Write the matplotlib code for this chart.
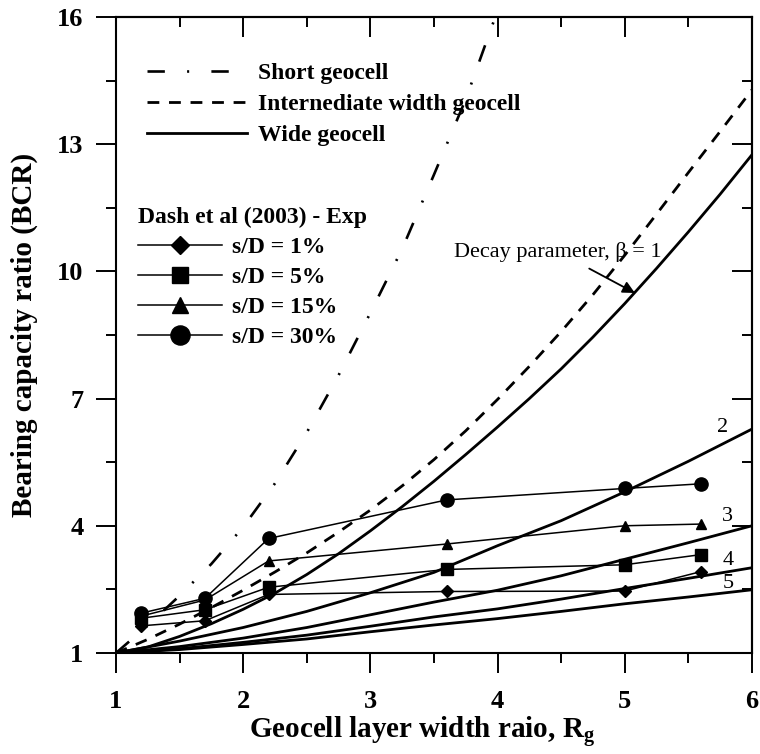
import matplotlib
matplotlib.use('Agg')
import matplotlib.pyplot as plt
from matplotlib.lines import Line2D
from matplotlib.ticker import MultipleLocator

plt.rcParams['font.family'] = 'Liberation Serif'
plt.rcParams['mathtext.fontset'] = 'custom'
plt.rcParams['mathtext.rm'] = 'Liberation Serif'
plt.rcParams['mathtext.bf'] = 'Liberation Serif:bold'
plt.rcParams['lines.scale_dashes'] = False

# wide geocell: BCR against width ratio for each decay parameter
rg_fine = [1, 1.25, 1.5, 1.75, 2, 2.25, 2.5, 2.75, 3, 3.25, 3.5, 3.75, 4,
           4.25, 4.5, 4.75, 5, 5.25, 5.5, 5.75, 6]
wide_b1 = [1, 1.14, 1.39, 1.69, 2.03, 2.41, 2.85, 3.34, 3.88, 4.45, 5.05, 5.68, 6.33,
           7.00, 7.70, 8.45, 9.24, 10.07, 10.93, 11.82, 12.75]
rg = [1, 1.5, 2, 2.5, 3, 3.5, 4, 4.5, 5, 5.5, 6]
wide_b2 = [1, 1.28, 1.60, 1.98, 2.42, 2.90, 3.53, 4.12, 4.80, 5.52, 6.28]
wide_b3 = [1, 1.15, 1.35, 1.60, 1.90, 2.20, 2.48, 2.82, 3.21, 3.60, 4.00]
wide_b4 = [1, 1.10, 1.25, 1.42, 1.63, 1.85, 2.04, 2.27, 2.52, 2.76, 3.01]
wide_b5 = [1, 1.08, 1.20, 1.33, 1.50, 1.66, 1.81, 1.98, 2.16, 2.32, 2.49]

# intermediate width geocell
inter_bcr = [1, 1.32, 1.68, 2.07, 2.48, 2.91, 3.36, 3.85, 4.37, 4.94, 5.56, 6.24, 6.98,
             7.76, 8.58, 9.45, 10.38, 11.35, 12.33, 13.30, 14.28]

# short geocell
short_rg = [1, 1.25, 1.5, 1.75, 2, 2.25, 2.5, 2.75, 3, 3.25, 3.5, 3.75, 4]
short_bcr = [1, 1.65, 2.35, 3.10, 3.97, 5.00, 6.20, 7.55, 9.02, 10.53, 12.28, 14.06, 16.15]

# Dash et al (2003) experiments
exp_rg = [1.2, 1.7, 2.2, 3.6, 5.0, 5.6]
sd_1 = [1.64, 1.76, 2.38, 2.45, 2.46, 2.92]
sd_5 = [1.82, 2.02, 2.55, 2.97, 3.08, 3.32]
sd_15 = [1.87, 2.25, 3.17, 3.57, 4.00, 4.04]
sd_30 = [1.94, 2.29, 3.70, 4.61, 4.88, 4.99]

beta_labels = ['2', '3', '4', '5']
x_ticks = [1, 2, 3, 4, 5, 6]
y_ticks = [1, 4, 7, 10, 13, 16]

fig = plt.figure(figsize=(7.6, 7.54), dpi=100)
ax = fig.add_axes([0.1526, 0.1340, 0.8368, 0.8435])

short_ls = (0, (12.5, 16, 1.5, 16))
inter_ls = (0, (8.5, 7))

ax.plot(short_rg, short_bcr, color='black', lw=1.9, ls=short_ls)
ax.plot(rg_fine, inter_bcr, color='black', lw=2.0, ls=inter_ls)
ax.plot(rg_fine, wide_b1, color='black', lw=2.0)
for b in [wide_b2, wide_b3, wide_b4, wide_b5]:
    ax.plot(rg, b, color='black', lw=2.0)

exp_lines = []
for vals, mk, ms in [(sd_1, 'D', 6.5), (sd_5, 's', 8.0), (sd_15, '^', 7.5), (sd_30, 'o', 9.5)]:
    ln, = ax.plot(exp_rg, vals, color='black', lw=1.1, marker=mk, ms=ms,
                  markerfacecolor='black', markeredgecolor='black')
    exp_lines.append(ln)

# beta labels next to the wide-geocell curves
for lab, bx, by in zip(beta_labels, [5.77, 5.81, 5.81, 5.81], [6.31, 4.21, 3.19, 2.65]):
    ax.text(bx, by, lab, fontsize=16, ha='center', va='center')

ax.annotate('Decay parameter, β = 1', xy=(5.08, 9.49), xytext=(4.475, 10.46),
            fontsize=16, ha='center', va='center',
            arrowprops=dict(arrowstyle='-|>', color='black', lw=1.3,
                            mutation_scale=18, shrinkA=6, shrinkB=0))

ax.set_xlim(1, 6)
ax.set_ylim(1, 16)
ax.set_xticks(x_ticks)
ax.set_yticks(y_ticks)
ax.xaxis.set_minor_locator(MultipleLocator(0.5))
ax.yaxis.set_minor_locator(MultipleLocator(1.5, offset=1))
ax.tick_params(which='major', direction='out', length=14.4, width=1.4, labelsize=19)
ax.tick_params(axis='x', which='major', pad=12)
ax.tick_params(axis='y', which='major', pad=9)
ax.tick_params(which='minor', direction='out', length=7.2, width=1.4)
for lab in ax.get_xticklabels() + ax.get_yticklabels():
    lab.set_fontweight('bold')
for sp in ax.spines.values():
    sp.set_linewidth(1.5)

# inward ticks on the top and right edges
top = ax.secondary_xaxis('top')
right = ax.secondary_yaxis('right')
top.set_xticks(x_ticks)
right.set_yticks(y_ticks)
top.xaxis.set_minor_locator(MultipleLocator(0.5))
right.yaxis.set_minor_locator(MultipleLocator(1.5, offset=1))
for sec in (top, right):
    sec.tick_params(which='major', direction='in', length=14.4, width=1.4,
                    labelleft=False, labelright=False, labeltop=False, labelbottom=False)
    sec.tick_params(which='minor', direction='in', length=7.2, width=1.4)
    for sp in sec.spines.values():
        sp.set_linewidth(1.5)

ax.set_xlabel(r'Geocell layer width raio, $\mathbf{R_g}$', fontsize=21, fontweight='bold')
ax.xaxis.set_label_coords(0.481, -0.097)
ax.set_ylabel('Bearing capacity ratio (BCR)', fontsize=21, fontweight='bold')
ax.yaxis.set_label_coords(-0.123, 0.5)

style_handles = [
    Line2D([], [], color='black', lw=1.9, ls=short_ls),
    Line2D([], [], color='black', lw=2.0, ls=inter_ls),
    Line2D([], [], color='black', lw=2.0),
]
leg1 = ax.legend(style_handles, ['Short geocell', 'Internediate width geocell', 'Wide geocell'],
                 loc='upper left', bbox_to_anchor=(0.0487, 0.928), frameon=False,
                 prop={'weight': 'bold', 'size': 17}, handlelength=4.24,
                 handletextpad=0.47, labelspacing=0.40, borderpad=0, borderaxespad=0)
ax.add_artist(leg1)

leg2 = ax.legend(exp_lines, ['s/D = 1%', 's/D = 5%', 's/D = 15%', 's/D = 30%'],
                 loc='upper left', bbox_to_anchor=(0.0346, 0.701), frameon=False,
                 prop={'weight': 'bold', 'size': 17}, handlelength=3.56,
                 handletextpad=0.42, labelspacing=0.36, borderpad=0, borderaxespad=0,
                 markerscale=1.45, title='Dash et al (2003) - Exp',
                 title_fontproperties={'weight': 'bold', 'size': 17}, alignment='left')

fig.savefig('out.png', dpi=100)
